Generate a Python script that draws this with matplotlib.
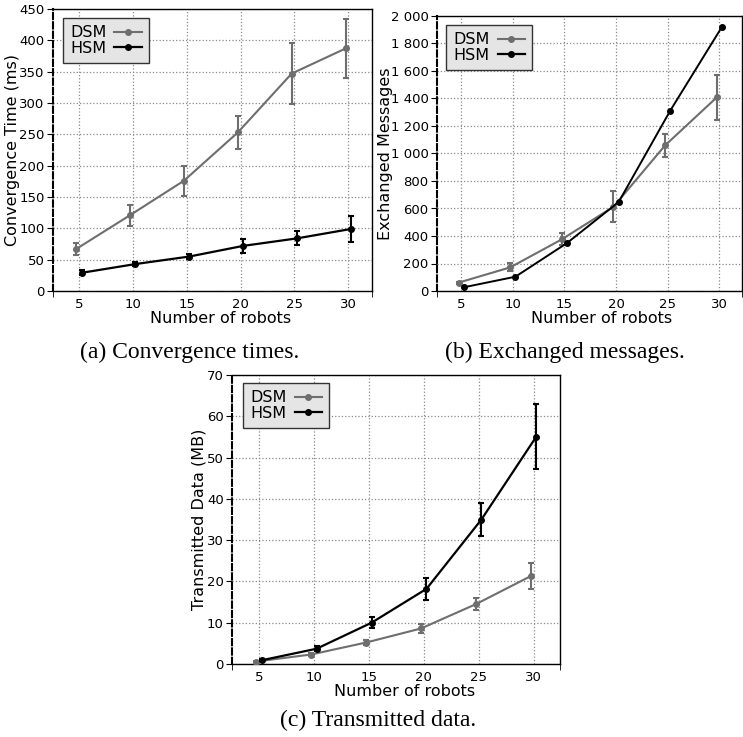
import numpy as np
import matplotlib
matplotlib.use("Agg")
import matplotlib.pyplot as plt
from matplotlib.lines import Line2D
from matplotlib.ticker import FuncFormatter

robots = [5, 10, 15, 20, 25, 30]

conv_dsm = [67, 121, 176, 253, 347, 387]
conv_dsm_err = [9, 17, 24, 27, 48, 47]
conv_hsm = [29, 43, 55, 72, 84, 99]
conv_hsm_err = [4, 3, 4, 11, 11, 21]

msg_dsm = [61, 172, 376, 613, 1059, 1408]
msg_dsm_err = [8, 30, 45, 113, 82, 161]
msg_hsm = [27, 104, 349, 647, 1312, 1920]

data_dsm = [0.6, 2.3, 5.2, 8.6, 14.5, 21.3]
data_dsm_err = [0.2, 0.3, 0.6, 1.2, 1.5, 3.2]
data_hsm = [0.9, 3.7, 10.0, 18.2, 35.0, 55.1]
data_hsm_err = [0.2, 0.6, 1.3, 2.7, 3.9, 7.8]

GRAY = "#6e6e6e"
W, H = 743, 737


def make_axes(fig, left, top, right, bottom):
    return fig.add_axes([left / W, 1 - bottom / H, (right - left) / W, (bottom - top) / H])


def draw_panel(ax, dsm, dsm_err, hsm, hsm_err, xlim, ylim, yticks, ylabel,
               ylab_x, xlab_pos, leg_pos, fmt=None, hsm_lw=1.6):
    x = np.array(robots, dtype=float)
    ax.errorbar(x - 0.25, dsm, yerr=dsm_err, color=GRAY, lw=1.5, marker="o", ms=4,
                capsize=2.5, capthick=1.5, elinewidth=1.5, zorder=3)
    ax.errorbar(x + 0.25, hsm, yerr=hsm_err, color="black", lw=hsm_lw, marker="o", ms=4,
                capsize=2.5, capthick=1.5, elinewidth=1.5, zorder=4)
    ax.set_xlim(*xlim)
    ax.set_ylim(*ylim)
    ax.set_xticks(robots)
    ax.set_xticks(list(xlim), minor=True)
    ax.set_yticks(yticks)
    if fmt is not None:
        ax.yaxis.set_major_formatter(FuncFormatter(fmt))
    ax.grid(True, linestyle=":", color="#8a8a8a", lw=0.9)
    ax.tick_params(axis="x", which="major", length=0, pad=5, labelsize=9.5)
    ax.tick_params(axis="x", which="minor", length=4, direction="out")
    ax.tick_params(axis="y", length=4, direction="out", pad=2, labelsize=9.5)
    ax.spines["left"].set_linestyle((0, (3, 1.5)))
    ax.spines["left"].set_linewidth(1.5)
    for s in ["top", "right", "bottom"]:
        ax.spines[s].set_linewidth(1.0)
    ax.set_ylabel(ylabel, fontsize=11.5)
    ax.yaxis.set_label_coords(ylab_x, 0.5)
    ax.set_xlabel("Number of robots", fontsize=11.5)
    ax.xaxis.set_label_coords(*xlab_pos)
    ax.xaxis.label.set_va("center")

    handles = [
        Line2D([], [], color=GRAY, lw=1.5, marker="o", ms=4),
        Line2D([], [], color="black", lw=1.6, marker="o", ms=4),
    ]
    leg = ax.legend(handles, ["DSM", "HSM"], loc="upper left", bbox_to_anchor=leg_pos,
                    borderaxespad=0, fontsize=11.5, markerfirst=False, handlelength=1.7,
                    handletextpad=0.5, borderpad=0.45, labelspacing=0.05,
                    fancybox=False, framealpha=1)
    leg.get_frame().set_facecolor("#e5e5e5")
    leg.get_frame().set_edgecolor("#333333")
    leg.get_frame().set_linewidth(1.0)


def thousands(v, pos):
    return f"{int(v):,}".replace(",", " ")


fig = plt.figure(figsize=(W / 100, H / 100), dpi=100)

ax_a = make_axes(fig, 53, 9, 372, 291)
draw_panel(ax_a, conv_dsm, conv_dsm_err, conv_hsm, conv_hsm_err,
           (2.6, 32.2), (0, 450), range(0, 451, 50), "Convergence Time (ms)",
           -0.103, (0.524, -0.097), (0.031, 0.968))

ax_b = make_axes(fig, 437, 16, 742, 291)
draw_panel(ax_b, msg_dsm, msg_dsm_err, msg_hsm, None,
           (2.65, 32.2), (0, 2000), range(0, 2001, 200), "Exchanged Messages",
           -0.144, (0.538, -0.099), (0.030, 0.967), fmt=thousands, hsm_lw=1.4)

ax_c = make_axes(fig, 232, 375, 560, 664)
draw_panel(ax_c, data_dsm, data_dsm_err, data_hsm, data_hsm_err,
           (2.55, 32.4), (0, 70), range(0, 71, 10), "Transmitted Data (MB)",
           -0.078, (0.527, -0.095), (0.034, 0.972))

cap_font = {"family": "Liberation Serif", "size": 17}
fig.text(190 / W, 1 - 352 / H, "(a) Convergence times.", ha="center", va="center", fontdict=cap_font)
fig.text(565 / W, 1 - 352 / H, "(b) Exchanged messages.", ha="center", va="center", fontdict=cap_font)
fig.text(378 / W, 1 - 720 / H, "(c) Transmitted data.", ha="center", va="center", fontdict=cap_font)

fig.savefig("out.png", dpi=100)
